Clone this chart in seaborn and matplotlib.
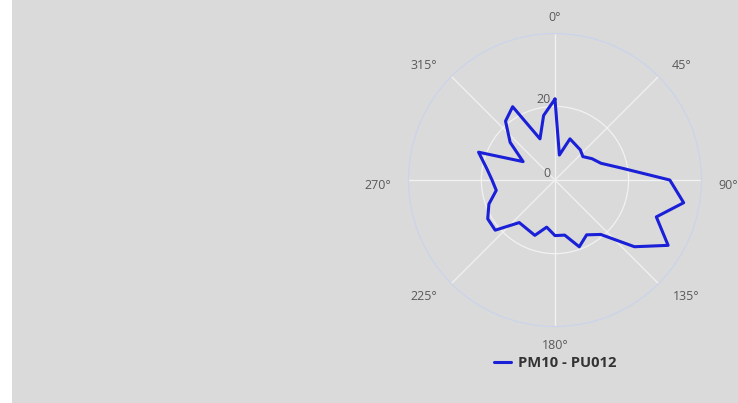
import numpy as np
import pandas as pd
import matplotlib
matplotlib.use("Agg")
import matplotlib.pyplot as plt
from matplotlib.patches import Rectangle
import seaborn as sns

# ---- data ----
directions = [0, 10, 20, 30, 40, 50, 60, 70, 80, 90, 100, 110,
              120, 130, 140, 150, 160, 170, 180, 190, 200, 210, 220, 230,
              240, 250, 260, 270, 280, 290, 300, 310, 320, 330, 340, 350]
pm10 = [22.0, 6.9, 11.9, 11.1, 10.7, 9.9, 11.6, 13.3, 18.5, 31.2, 35.5, 29.3,
        35.5, 28.2, 19.3, 17.2, 19.3, 15.2, 15.1, 13.0, 16.0, 15.3, 15.1, 21.2,
        21.1, 19.1, 16.2, 17.1, 18.9, 22.1, 10.0, 15.9, 20.9, 23.0, 11.9, 17.8]
series_name = "PM10 - PU012"
angle_ticks = [0, 45, 90, 135, 180, 225, 270, 315]
angle_labels = ["0°", "45°", "90°", "135°", "180°", "225°", "270°", "315°"]
radial_ticks = [0, 20]
r_max = 39.8

# label centre offsets from the outer circle, in pixels (right, up)
label_offset = {0: (0, 16.5), 45: (23, 10.7), 90: (26.5, -5), 135: (27.4, -13),
                180: (0, -18.5), 225: (-27.4, -13), 270: (-30.5, -5), 315: (-27.4, 10.7)}

sns.set_theme(style="white")
plt.rcParams["font.family"] = ["Open Sans", "DejaVu Sans"]

BG = "#dadada"
TXT = "#5a5a5a"
DPI = 100
fig = plt.figure(figsize=(7.38, 4.03), dpi=DPI)
fig.patch.set_facecolor("white")
fig.patches.append(Rectangle((12 / 738, 0), 1 - 12 / 738, 1, transform=fig.transFigure,
                             facecolor=BG, edgecolor="none", zorder=-10))

ax = fig.add_axes([0.5535, 0.1898, 0.397, 0.727], projection="polar")
ax.set_facecolor(BG)
ax.set_theta_zero_location("N")
ax.set_theta_direction(-1)

df = pd.DataFrame({
    "theta": np.deg2rad(directions + [directions[0]]),
    "r": pm10 + [pm10[0]],
})
sns.lineplot(data=df, x="theta", y="r", sort=False, ax=ax, color="#1a1fd8",
             linewidth=2.2, label=series_name, legend=False, estimator=None)

ax.set_ylim(0, r_max)
ax.set_yticks(radial_ticks)
ax.set_yticklabels([])
ax.set_xticks(np.deg2rad(angle_ticks))
ax.set_xticklabels([])
ax.grid(color="#f2f2f2", linewidth=0.9)
ax.spines["polar"].set_color("#cad4ea")
ax.spines["polar"].set_linewidth(0.9)
ax.set_xlabel("")
ax.set_ylabel("")

for a, txt in zip(angle_ticks, angle_labels):
    ax.annotate(txt, xy=(np.deg2rad(a), r_max), xytext=label_offset[a],
                textcoords="offset pixels", ha="center", va="center",
                fontsize=9, color=TXT, annotation_clip=False)

for v in radial_ticks:
    ax.annotate(str(v), xy=(0, v), xytext=(-3, 5), textcoords="offset points",
                ha="right", va="center", fontsize=9, color=TXT)

handles, labels = ax.get_legend_handles_labels()
fig.legend(handles, labels, loc="center", bbox_to_anchor=(0.752, 0.099), frameon=False,
           handlelength=1.2, handletextpad=0.45,
           prop={"weight": "bold", "size": 10.6}, labelcolor="#333333")

fig.savefig("out.png", dpi=DPI, facecolor=fig.get_facecolor())
